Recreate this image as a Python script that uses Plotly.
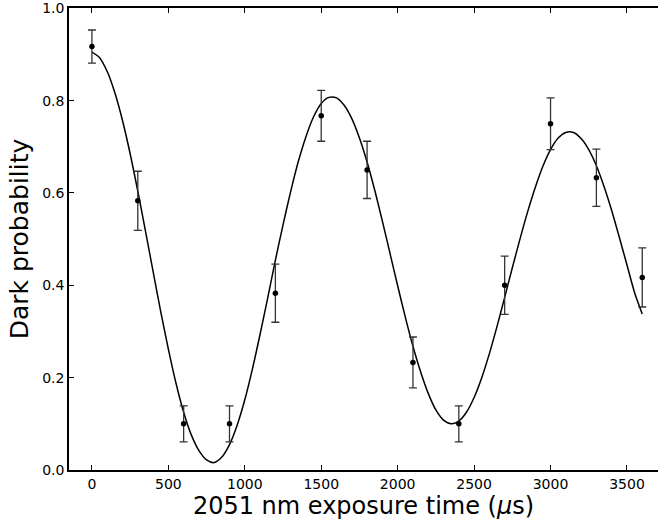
import plotly.graph_objects as go

# measured data
times = [0, 300, 600, 900, 1200, 1500, 1800, 2100, 2400, 2700, 3000, 3300, 3600]
dark_prob = [0.917, 0.583, 0.100, 0.100, 0.383, 0.767, 0.650, 0.233, 0.100, 0.400, 0.750, 0.633, 0.417]
dark_err = [0.036, 0.064, 0.039, 0.039, 0.063, 0.055, 0.062, 0.055, 0.039, 0.063, 0.056, 0.062, 0.064]

# fit curve (every 50 us)
fit_t = list(range(0, 3601, 50))
fit_y = [0.905, 0.893, 0.863, 0.817, 0.757, 0.685, 0.604, 0.518, 0.430, 0.343,
         0.262, 0.188, 0.125, 0.076, 0.042, 0.022, 0.016, 0.028, 0.055, 0.097,
         0.152, 0.219, 0.294, 0.373, 0.454, 0.531, 0.603, 0.668, 0.722, 0.765,
         0.794, 0.807, 0.806, 0.790, 0.761, 0.719, 0.667, 0.606, 0.539, 0.469,
         0.399, 0.331, 0.268, 0.213, 0.166, 0.130, 0.108, 0.100, 0.106, 0.125,
         0.157, 0.200, 0.252, 0.311, 0.374, 0.438, 0.500, 0.559, 0.612, 0.658,
         0.694, 0.719, 0.731, 0.731, 0.718, 0.694, 0.659, 0.614, 0.562, 0.504,
         0.444, 0.384, 0.338]

x_ticks = [0, 500, 1000, 1500, 2000, 2500, 3000, 3500]
y_ticks = [0.0, 0.2, 0.4, 0.6, 0.8, 1.0]

fig = go.Figure()
fig.add_trace(go.Scatter(x=fit_t, y=fit_y, mode="lines",
                         line=dict(color="black", width=1.5, shape="spline", smoothing=0.8),
                         hoverinfo="skip", showlegend=False))
fig.add_trace(go.Scatter(x=times, y=dark_prob, mode="markers",
                         marker=dict(color="black", size=5.5),
                         error_y=dict(type="data", array=dark_err, visible=True,
                                      color="#333333", thickness=1.3, width=4),
                         showlegend=False))

font = "DejaVu Sans, Arial, sans-serif"
fig.update_layout(
    width=658, height=527,
    margin=dict(l=69, r=0, t=8, b=57),
    paper_bgcolor="white", plot_bgcolor="white",
    font=dict(family=font, color="black", size=14),
    xaxis=dict(range=[-150, 3703], tickvals=x_ticks, ticktext=[str(v) for v in x_ticks],
               showgrid=False, zeroline=False, showline=True, linecolor="black", linewidth=1.5,
               mirror="ticks", ticks="inside", ticklen=5, tickcolor="black", tickwidth=1,
               tickfont=dict(size=14),
               title=dict(text="2051 nm exposure time (<i>μ</i>s)", font=dict(size=24), standoff=5)),
    yaxis=dict(range=[0, 1.0006], tickvals=y_ticks, ticktext=["%.1f" % v for v in y_ticks],
               showgrid=False, zeroline=False, showline=True, linecolor="black", linewidth=1.5,
               mirror=False, ticks="inside", ticklen=5, tickcolor="black", tickwidth=1,
               tickfont=dict(size=14),
               title=dict(text="Dark probability", font=dict(size=25), standoff=6)),
)

fig.write_html("out.html")
